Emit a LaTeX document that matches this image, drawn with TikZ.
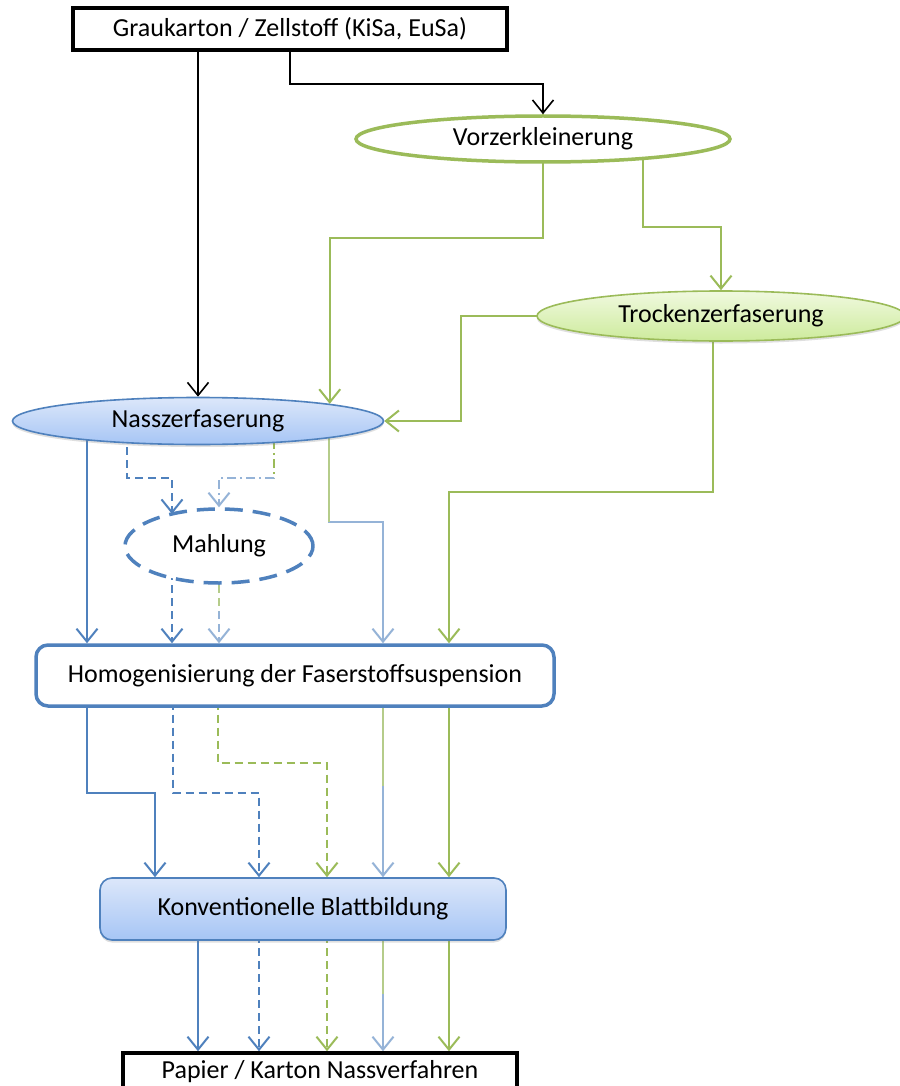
\documentclass[tikz,border=0pt]{standalone}
\usepackage{fontspec}
\setmainfont{Carlito}
\usetikzlibrary{arrows.meta,shapes.geometric,backgrounds,shadows}
\definecolor{ablue}{HTML}{4F81BD}
\definecolor{agreen}{HTML}{9BBB59}
\definecolor{alblue}{HTML}{95B3D7}
\definecolor{algreen}{HTML}{B5CC8A}
\definecolor{nassTop}{HTML}{DCE7FA}
\definecolor{nassBot}{HTML}{A6C5F5}
\definecolor{trTop}{HTML}{F0F9DF}
\definecolor{trBot}{HTML}{CDEB9C}
\begin{document}
\begin{tikzpicture}[x=1pt,y=-1pt,
  font=\fontsize{26}{31}\selectfont,
  ln/.style={line width=2pt},
  con/.style={ln,-{Straight Barb[length=13pt,width=21pt]}},
  dsh/.style={dash pattern=on 8pt off 5pt},
  dshdot/.style={dash pattern=on 9pt off 4pt on 2pt off 4pt},
  boxblk/.style={draw=black,line width=3.5pt,fill=white,inner sep=0pt},
  vorzst/.style={ellipse,draw=agreen,line width=3.5pt,fill=white,inner sep=0pt,
    minimum width=374pt,minimum height=46pt},
  trockst/.style={ellipse,draw=agreen,line width=1.6pt,top color=trTop,bottom color=trBot,
    inner sep=0pt,minimum width=368pt,minimum height=50pt,
    drop shadow={opacity=0.25,shadow xshift=0pt,shadow yshift=-2.5pt}},
  nassst/.style={ellipse,draw=ablue,line width=1.6pt,top color=nassTop,bottom color=nassBot,
    inner sep=0pt,minimum width=371pt,minimum height=47pt,
    drop shadow={opacity=0.25,shadow xshift=0pt,shadow yshift=-2.5pt}},
  mahlst/.style={ellipse,draw=ablue,line width=3.5pt,dash pattern=on 18pt off 10pt,
    fill=white,inner sep=0pt,minimum width=188pt,minimum height=74pt},
  homogst/.style={rectangle,rounded corners=12pt,draw=ablue,line width=3.5pt,fill=white,
    inner sep=0pt,minimum width=518pt,minimum height=61pt},
  konvst/.style={rectangle,rounded corners=12pt,draw=ablue,line width=1.6pt,
    top color=nassTop,bottom color=nassBot,inner sep=0pt,minimum width=406pt,minimum height=62pt,
    drop shadow={opacity=0.25,shadow xshift=0pt,shadow yshift=-2.5pt}}
]
\useasboundingbox (0,0) rectangle (899,1086);

\node[boxblk,minimum width=434pt,minimum height=42pt] (top) at (290,29) {Graukarton / Zellstoff (KiSa, EuSa)};
\node[vorzst] (vorz) at (543,139) {Vorzerkleinerung};
\node[trockst] (trock) at (721,316) {Trockenzerfaserung};
\node[nassst] (nass) at (198,421) {Nasszerfaserung};
\node[mahlst] (mahl) at (219,546) {Mahlung};
\node[homogst] (homog) at (295,675.5) {Homogenisierung der Faserstoffsuspension};
\node[konvst] (konv) at (303,909) {Konventionelle Blattbildung};
\node[boxblk,minimum width=394pt,minimum height=38pt] (bot) at (320,1072) {Papier / Karton Nassverfahren};

\begin{scope}[on background layer]
\fill[white] (0,0) rectangle (899,1086);
% from top box
\draw[con,black,line width=1.6pt] (top.south -| nass.north) -- (nass.north);
\draw[con,black,line width=1.6pt] (top.south) -- ++(0,32) -| (vorz.north);
% from Vorzerkleinerung
\draw[con,agreen] (vorz.center) -- ++(0,99) -| (nass.north east);
\draw[con,agreen] ([xshift=100pt]vorz.center) -- ++(0,88) -| (trock.north);
% from Trockenzerfaserung
\draw[con,agreen] (trock.center) -- ++(-260,0) |- (nass.east);
\draw[con,agreen] ([xshift=-8pt]trock.center) -- ++(0,176) -| ([xshift=154pt]homog.north);
% from Nasszerfaserung
\draw[con,ablue] ([xshift=-111pt]nass.center) -- ([xshift=-208pt]homog.north);
\draw[con,ablue,dsh] ([xshift=-71pt]nass.center) -- ++(0,57) -| ([xshift=-47pt,yshift=32pt]mahl.center);
\draw[con,alblue,dshdot] ([xshift=76pt]nass.center) -- ++(0,57) -| (mahl.north);
\draw[ln,agreen,dshdot] ([xshift=76pt]nass.center) -- ++(0,57);
\draw[con,alblue] ([xshift=131pt]nass.center) -- ++(0,101) -| ([xshift=88pt]homog.north);
\draw[ln,algreen] ([xshift=131pt]nass.center) -- ++(0,101);
% from Mahlung
\draw[con,ablue,dsh] ([xshift=-47pt]mahl.center) -- ([xshift=-123pt]homog.north);
\draw[con,alblue,dsh] (mahl.center) -- ([xshift=-76pt]homog.north);
\draw[ln,algreen,dsh] (mahl.center) -- ++(0,65);
% from Homogenisierung
\draw[con,ablue] ([xshift=-208pt]homog.center) -- ++(0,117.5) -| ([xshift=-148pt]konv.north);
\draw[con,ablue,dsh] ([xshift=-122pt]homog.center) -- ++(0,117.5) -| ([xshift=-44pt]konv.north);
\draw[con,agreen,dsh] ([xshift=-77pt]homog.center) -- ++(0,87.5) -| ([xshift=24pt]konv.north);
\draw[con,alblue] ([xshift=88pt]homog.center) -- ([xshift=80pt]konv.north);
\draw[ln,algreen] ([xshift=88pt]homog.center) -- ++(0,110);
\draw[con,agreen] ([xshift=154pt]homog.center) -- ([xshift=146pt]konv.north);
% from Konventionelle Blattbildung
\draw[con,ablue] ([xshift=-105pt]konv.center) -- ([xshift=-122pt]bot.north);
\draw[con,ablue,dsh] ([xshift=-44pt]konv.center) -- ([xshift=-61pt]bot.north);
\draw[con,agreen,dsh] ([xshift=24pt]konv.center) -- ([xshift=7pt]bot.north);
\draw[con,alblue] ([xshift=80pt]konv.center) -- ([xshift=63pt]bot.north);
\draw[ln,algreen] ([xshift=80pt]konv.center) -- ++(0,85);
\draw[con,agreen] ([xshift=146pt]konv.center) -- ([xshift=129pt]bot.north);
\end{scope}
\end{tikzpicture}
\end{document}
